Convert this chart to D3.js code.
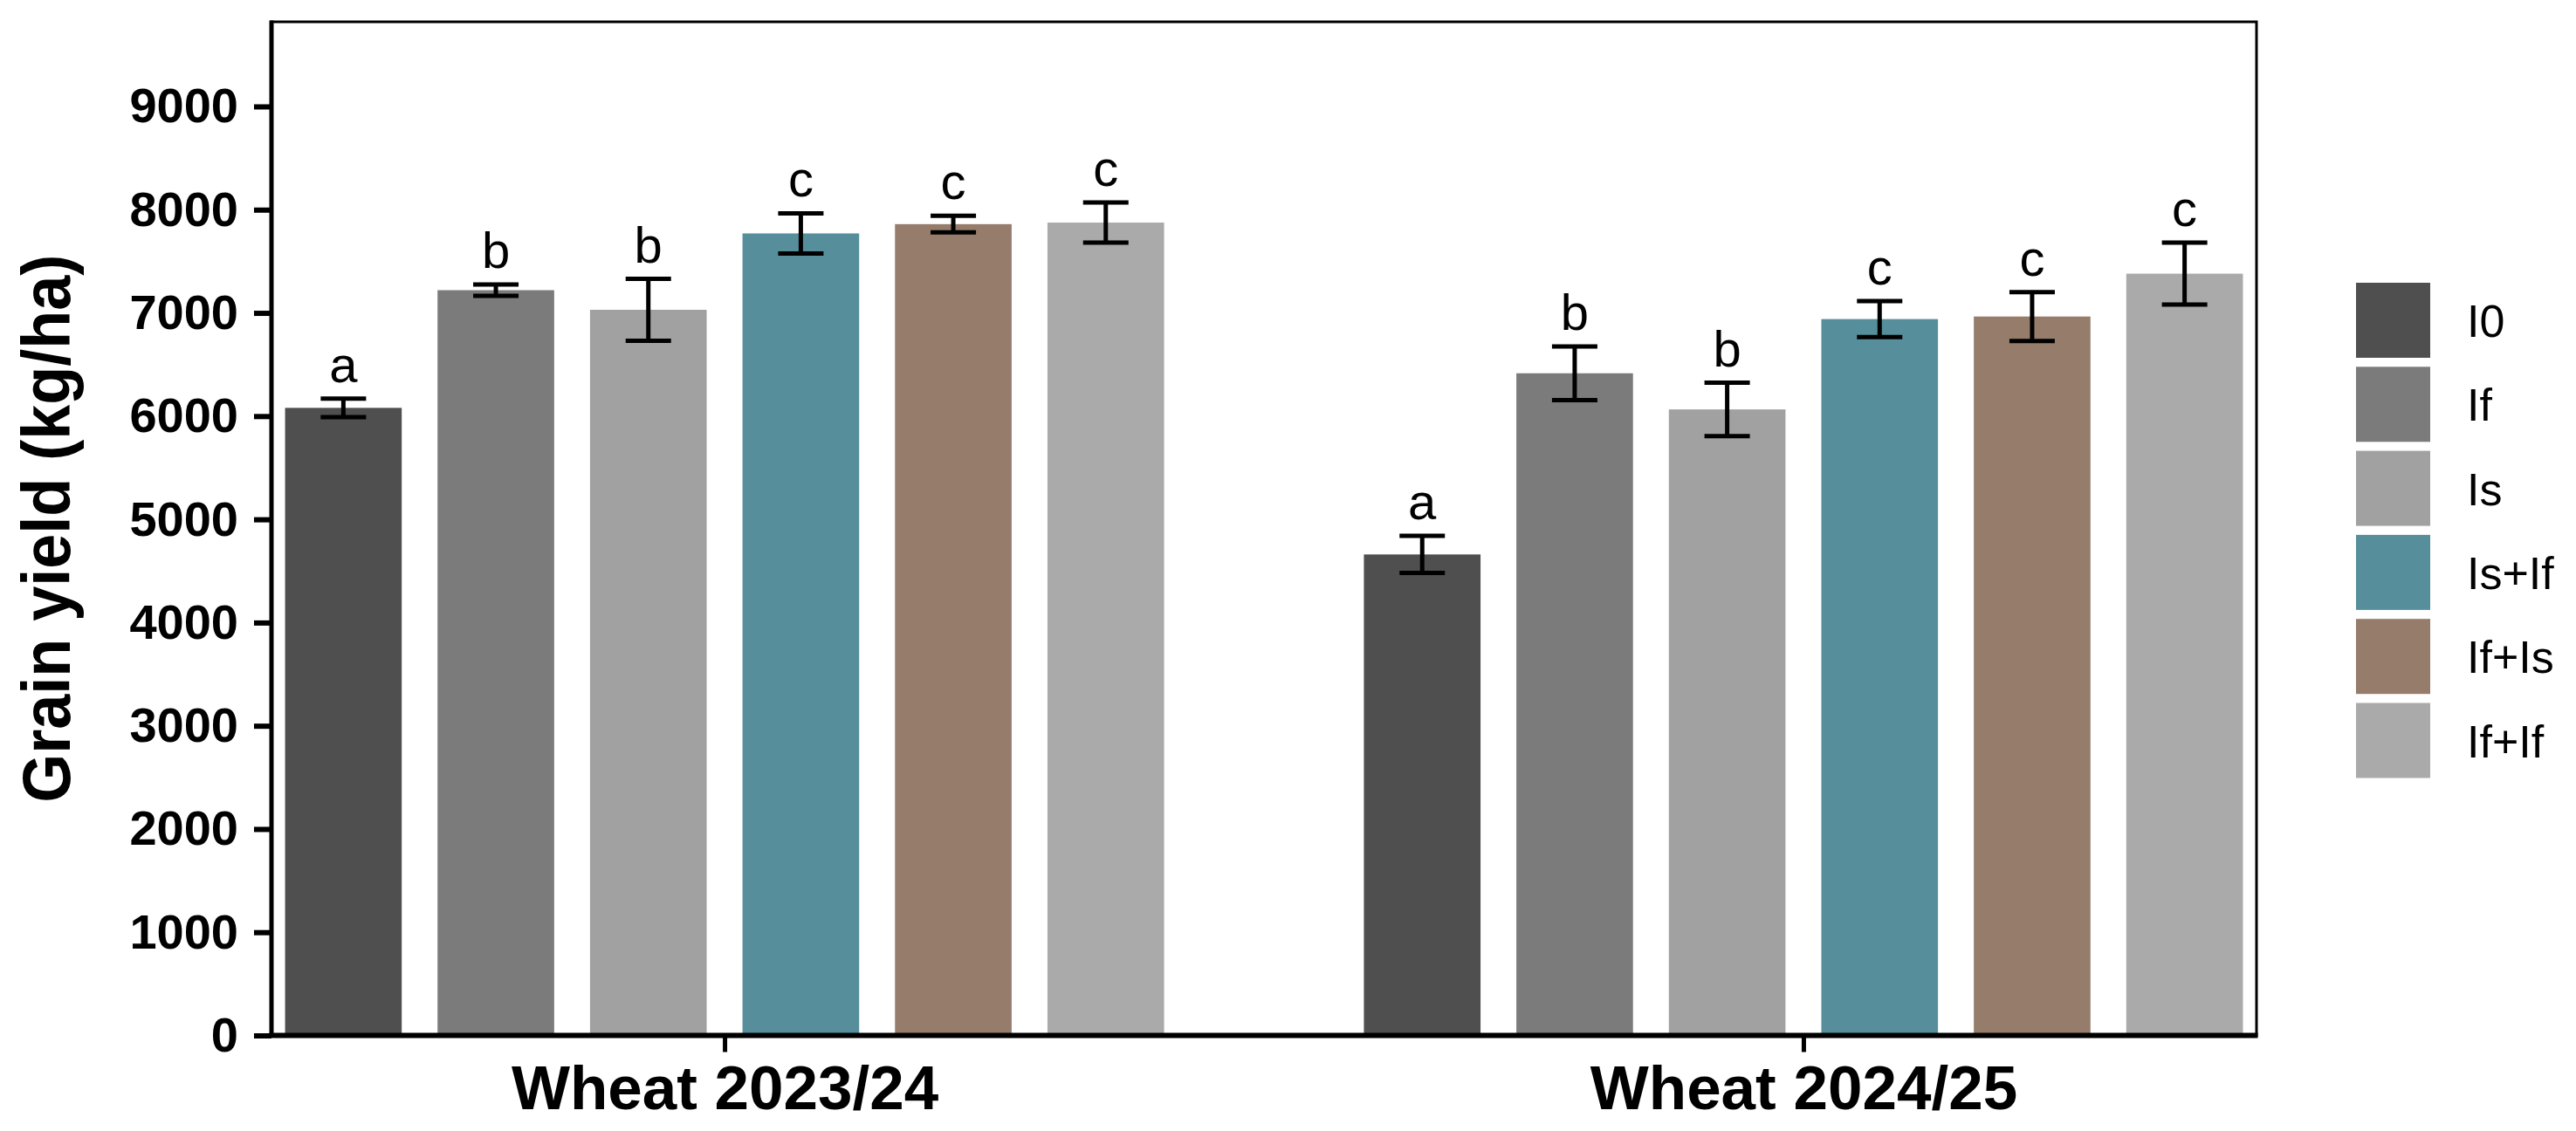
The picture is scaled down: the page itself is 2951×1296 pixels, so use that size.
<!DOCTYPE html>
<html>
<head>
<meta charset="utf-8">
<script src="https://cdn.jsdelivr.net/npm/d3@7"></script>
<style>
  html, body { margin: 0; padding: 0; background: #fff; }
  svg { display: block; }
</style>
</head>
<body>
<svg id="chart" width="2951" height="1296"></svg>
<script>
// ---- data ----
const groups = ["Wheat 2023/24", "Wheat 2024/25"];
const treatments = ["I0", "If", "Is", "Is+If", "If+Is", "If+If"];
const means2324 = [6080, 7220, 7030, 7770, 7860, 7875];
const errs2324  = [90, 55, 300, 195, 80, 195];
const letters2324 = ["a", "b", "b", "c", "c", "c"];
const means2425 = [4660, 6415, 6065, 6940, 6965, 7380];
const errs2425  = [180, 260, 258, 175, 237, 300];
const letters2425 = ["a", "b", "b", "c", "c", "c"];
const yTicks = [0, 1000, 2000, 3000, 4000, 5000, 6000, 7000, 8000, 9000];
const yMax = 9820;
const colors = ["#4f4f4f", "#7b7b7b", "#a1a1a1", "#568f9b", "#957c6b", "#aaaaaa"];
const yTitle = "Grain yield (kg/ha)";

// ---- build rows ----
const seriesByGroup = [
  { means: means2324, errs: errs2324, letters: letters2324 },
  { means: means2425, errs: errs2425, letters: letters2425 }
];
const rows = [];
groups.forEach((g, gi) => {
  treatments.forEach((t, ti) => {
    rows.push({ group: g, treat: t, mean: seriesByGroup[gi].means[ti],
                err: seriesByGroup[gi].errs[ti], letter: seriesByGroup[gi].letters[ti] });
  });
});

// ---- layout ----
const pLeft = 311, pRight = 2585, pTop = 25, pBottom = 1186.5;
const svg = d3.select("#chart");

const x0 = d3.scalePoint().domain(groups).range([pLeft, pRight]).padding(0.42);
const x1 = d3.scaleBand().domain(treatments).range([-503.5, 503.5]).paddingInner(0.235).paddingOuter(0);
const y = d3.scaleLinear().domain([0, yMax]).range([pBottom, pTop]);
const color = d3.scaleOrdinal().domain(treatments).range(colors);

// frame (top & right)
svg.append("rect")
  .attr("x", pLeft).attr("y", pTop)
  .attr("width", pRight - pLeft).attr("height", pBottom - pTop)
  .attr("fill", "none").attr("stroke", "#000").attr("stroke-width", 3);

// bars
svg.append("g").selectAll("rect").data(rows).join("rect")
  .attr("x", d => x0(d.group) + x1(d.treat))
  .attr("y", d => y(d.mean))
  .attr("width", x1.bandwidth())
  .attr("height", d => y(0) - y(d.mean))
  .attr("fill", d => color(d.treat));

// error bars
const capW = 52;
const eb = svg.append("g").attr("stroke", "#000").attr("stroke-width", 5);
rows.forEach(d => {
  const cx = x0(d.group) + x1(d.treat) + x1.bandwidth() / 2;
  eb.append("line").attr("x1", cx).attr("x2", cx).attr("y1", y(d.mean + d.err)).attr("y2", y(d.mean - d.err));
  eb.append("line").attr("x1", cx - capW / 2).attr("x2", cx + capW / 2).attr("y1", y(d.mean + d.err)).attr("y2", y(d.mean + d.err));
  eb.append("line").attr("x1", cx - capW / 2).attr("x2", cx + capW / 2).attr("y1", y(d.mean - d.err)).attr("y2", y(d.mean - d.err));
});

// significance letters
svg.append("g").selectAll("text").data(rows).join("text")
  .attr("x", d => x0(d.group) + x1(d.treat) + x1.bandwidth() / 2)
  .attr("y", d => y(d.mean + d.err) - 19)
  .attr("text-anchor", "middle")
  .attr("font-family", "Liberation Sans, Arial, sans-serif")
  .attr("font-size", 58)
  .attr("fill", "#000")
  .text(d => d.letter);

// y axis
const yAxis = svg.append("g").attr("transform", `translate(${pLeft},0)`)
  .call(d3.axisLeft(y).tickValues(yTicks).tickSize(20).tickPadding(18).tickFormat(d3.format("d")));
yAxis.select(".domain").remove();
yAxis.selectAll(".tick line").attr("stroke", "#000").attr("stroke-width", 6);
yAxis.selectAll(".tick text")
  .attr("font-family", "Liberation Sans, Arial, sans-serif")
  .attr("font-weight", "bold").attr("font-size", 56).attr("fill", "#000");
svg.append("line").attr("x1", pLeft).attr("x2", pLeft).attr("y1", pTop - 1.5).attr("y2", pBottom + 2.5)
  .attr("stroke", "#000").attr("stroke-width", 5);

// x axis
const xAxis = svg.append("g").attr("transform", `translate(0,${pBottom})`)
  .call(d3.axisBottom(x0).tickSize(19).tickPadding(8));
xAxis.select(".domain").remove();
xAxis.selectAll(".tick line").attr("stroke", "#000").attr("stroke-width", 5);
xAxis.selectAll(".tick text")
  .attr("font-family", "Liberation Sans, Arial, sans-serif")
  .attr("font-weight", "bold").attr("font-size", 71).attr("fill", "#000")
  .attr("dy", null).attr("y", 84);
svg.append("line").attr("x1", pLeft - 2.5).attr("x2", pRight + 1.5).attr("y1", pBottom).attr("y2", pBottom)
  .attr("stroke", "#000").attr("stroke-width", 6);

// y title
svg.append("text")
  .attr("transform", `translate(80,${(pTop + pBottom) / 2}) rotate(-90)`)
  .attr("text-anchor", "middle")
  .attr("font-family", "Liberation Sans, Arial, sans-serif")
  .attr("font-weight", "bold").attr("font-size", 78)
  .attr("textLength", 628).attr("lengthAdjust", "spacingAndGlyphs")
  .attr("fill", "#000")
  .text(yTitle);

// legend
const lg = svg.append("g");
const legStep = 96.3;
treatments.forEach((t, i) => {
  lg.append("rect").attr("x", 2699).attr("y", 324 + i * legStep)
    .attr("width", 85).attr("height", 86).attr("fill", color(t));
  lg.append("text").attr("x", 2826).attr("y", 324 + i * legStep + 43 + 19)
    .attr("font-family", "Liberation Sans, Arial, sans-serif")
    .attr("font-size", 52).attr("fill", "#000")
    .text(t);
});
</script>
</body>
</html>
